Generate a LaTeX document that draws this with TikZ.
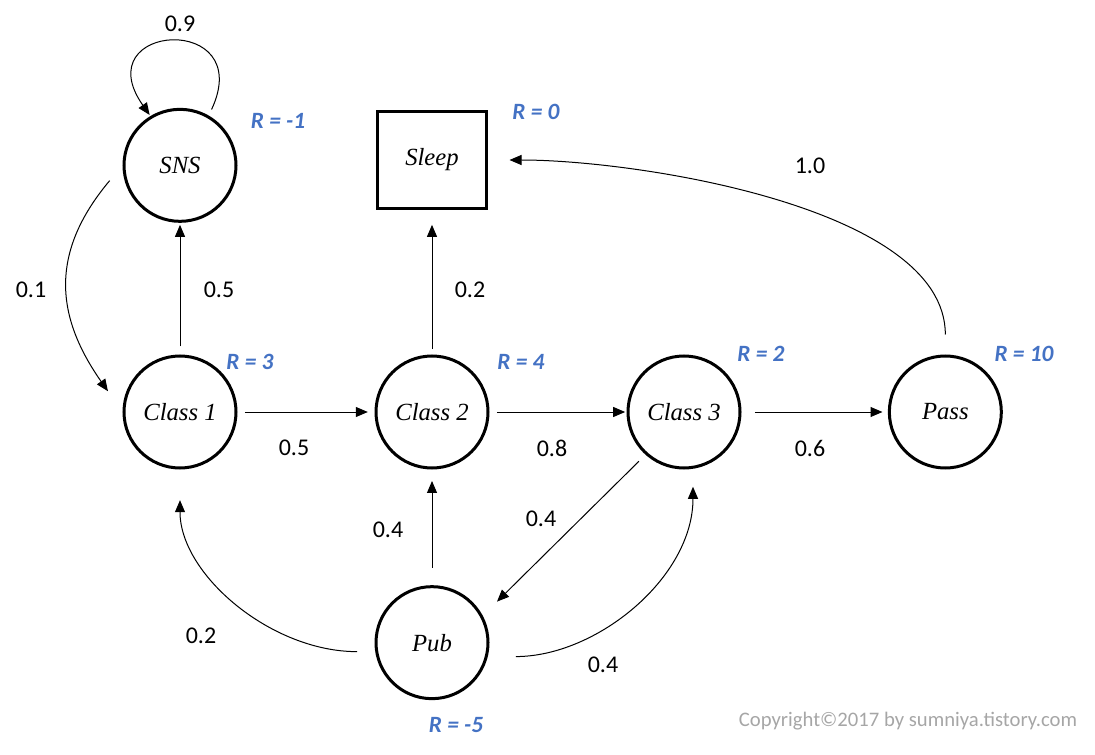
\documentclass[tikz,border=0pt]{standalone}
\usepackage{fontspec}
\setmainfont{Carlito}
\newfontfamily\nodefont{Liberation Serif}
\usetikzlibrary{arrows.meta}
\definecolor{rewardblue}{HTML}{4472C4}
\definecolor{copygray}{HTML}{A6A6A6}

\begin{document}
\begin{tikzpicture}[->,>={Triangle[length=9pt,width=7.5pt]},x=0.75pt,y=-0.75pt,
	node distance=189pt,line width=0.75pt,
	main node/.style={circle,draw,line width=2.25pt,minimum size=84pt,inner sep=0pt,
		font=\nodefont\itshape\fontsize{18.5}{20}\selectfont},
	end node/.style={rectangle,draw,line width=2.25pt,minimum width=82pt,minimum height=73pt,
		inner sep=0pt,font=\nodefont\itshape\fontsize{18.5}{20}\selectfont},
	prob/.style={font=\fontsize{18}{20}\selectfont},
	reward/.style={text=rewardblue,font=\bfseries\itshape\fontsize{17.5}{20}\selectfont}]
	
	\useasboundingbox (0,0) rectangle (1095,755);
	
	\node[main node] (c1) at (180,412) {Class 1};
	\node[main node] (c2) [right of=c1] {Class 2};
	\node[main node] (c3) [right of=c2] {Class 3};
	\node[main node,node distance=196pt] (pass) [right of=c3] {Pass};
	\node[main node,node distance=185pt] (sns) [above of=c1] {SNS};
	\node[end node] (sleep) [above of=c2] {Sleep};
	\node[main node,node distance=173pt] (pub) [below of=c2] {Pub};
	
	\path
	(sns.60) edge[out=65,in=125,looseness=5,shorten <=5pt,shorten >=1pt] (sns.121)
	(sns.west) edge[out=230,in=125,looseness=1.2,shorten <=15pt,shorten >=19pt] (c1.west)
	(c1) edge[shorten <=6pt,shorten >=1.5pt] (sns)
	(c1) edge[shorten <=5.6pt,shorten >=5pt] (c2)
	(c2) edge[shorten <=5.6pt,shorten >=1pt] (c3)
	(c2) edge[shorten <=4pt,shorten >=11pt] (sleep)
	(c3) edge[shorten <=10pt,shorten >=4pt] (pass)
	(pass.north) edge[out=90,in=0,looseness=0.76,shorten <=15pt,shorten >=16pt] (sleep.east)
	(c3.228) edge[shorten <=7pt,shorten >=15pt] (pub.28)
	(pub) edge[shorten <=13pt,shorten >=8.6pt] (c2)
	(pub.189) edge[out=180,in=-90,shorten <=13.5pt,shorten >=23pt] (c1.south)
	(pub.-14) edge[out=0,in=-90,shorten <=21pt,shorten >=13.5pt] (c3.-81)
	;
	
	% transition probabilities
	\node[prob] (p1) at (180,24) {0.9};
	\node[prob] (p2) at (31,290) {0.1};
	\node[prob] (p3) at (219,290) {0.5};
	\node[prob] (p4) at (470,290) {0.2};
	\node[prob] (p5) at (810,166) {1.0};
	\node[prob] (p6) at (294,448) {0.5};
	\node[prob] (p7) at (552,448) {0.8};
	\node[prob] (p8) at (810,448) {0.6};
	\node[prob] (p9) at (388,530) {0.4};
	\node[prob] (p10) at (541,519) {0.4};
	\node[prob] (p11) at (201,636) {0.2};
	\node[prob] (p12) at (603,665) {0.4};
	
	% rewards
	\node[reward] (r1) at (278,121) {R = -1};
	\node[reward] (r2) at (536,112) {R = 0};
	\node[reward] (r3) at (250,362) {R = 3};
	\node[reward] (r4) at (521,362) {R = 4};
	\node[reward] (r5) at (761,354) {R = 2};
	\node[reward] (r6) at (1024,354) {R = 10};
	\node[reward] (r7) at (456,725) {R = -5};
	
	\node[text=copygray,font=\fontsize{15.5}{18}\selectfont] (copy) at (908,721) {Copyright©2017 by sumniya.tistory.com};
\end{tikzpicture}
\end{document}
